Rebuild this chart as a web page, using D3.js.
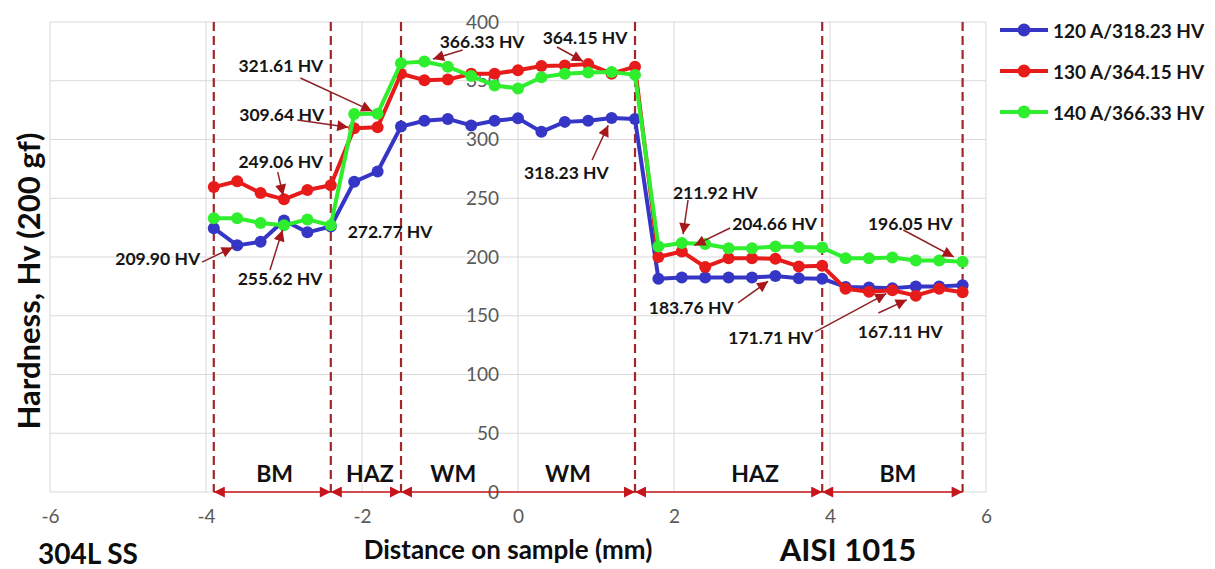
<!DOCTYPE html>
<html>
<head>
<meta charset="utf-8">
<script src="https://cdn.jsdelivr.net/npm/d3@7"></script>
<style>
  body { margin: 0; background: #fff; }
  svg text { font-family: Lato, "Open Sans", sans-serif; }
</style>
</head>
<body>
<div id="chart"></div>
<script>
// Data
const distances = [-3.9, -3.6, -3.3, -3.0, -2.7, -2.4, -2.1, -1.8, -1.5, -1.2, -0.9,
  -0.6, -0.3, 0, 0.3, 0.6, 0.9, 1.2, 1.5, 1.8, 2.1, 2.4, 2.7, 3.0, 3.3, 3.6, 3.9,
  4.2, 4.5, 4.8, 5.1, 5.4, 5.7];

const hardness120 = [224.5, 209.90, 213, 231, 221, 226,
  264, 272.77,
  311, 316, 317.5, 312, 316, 318, 306.5, 315, 316, 318.23, 317.5,
  181.5, 182.5, 182.5, 182.5, 182.5, 183.76, 182, 181.5,
  174.5, 174, 173.5, 175, 175, 176];

const hardness130 = [259.5, 264.5, 254.5, 249.06, 257, 261,
  309.64, 310.5,
  356, 350.5, 351, 356, 356, 359, 362.5, 363, 364.15, 356, 362,
  200, 204.66, 191.5, 199, 199, 198.5, 192, 192.5,
  173, 170.5, 171.71, 167.11, 173, 170];

const hardness140 = [233, 233, 229, 227, 232, 227,
  321.61, 322,
  365, 366.33, 362, 354, 346, 343.5, 353, 356, 357, 357.5, 355,
  209, 211.92, 211, 207.5, 207.5, 209, 208.5, 208,
  199, 199, 199.5, 197, 197, 196.05];

const seriesNames = ["120 A/318.23 HV", "130 A/364.15 HV", "140 A/366.33 HV"];
const xTicks = [-6, -4, -2, 0, 2, 4, 6];
const yTicks = [0, 50, 100, 150, 200, 250, 300, 350, 400];

// Zone boundaries (mm) and zone names
const zoneBounds = [-3.9, -2.4, -1.5, 1.5, 3.9, 5.7];
const zoneNames = ["BM", "HAZ", "WM", "WM", "HAZ", "BM"];
const zoneLabelX = [-3.12, -1.9, -0.83, 0.64, 3.04, 4.87];

// Callouts: label text
const calloutLabels = ["321.61 HV", "309.64 HV", "249.06 HV", "209.90 HV", "255.62 HV",
  "272.77 HV", "366.33 HV", "364.15 HV", "318.23 HV", "211.92 HV", "204.66 HV",
  "196.05 HV", "183.76 HV", "171.71 HV", "167.11 HV"];

// Layout of callouts (text centre and arrow start in data units, target series/point)
const calloutLayout = [
  {tx: -3.04, ty: 362.6, sx: -2.79, sy: 352.3, s: 2, i: 7, gap: 6},
  {tx: -3.03, ty: 321.7, sx: -2.83, sy: 316.6, s: 1, i: 6, gap: 6},
  {tx: -3.04, ty: 280.9, sx: -3.08, sy: 272.3, s: 1, i: 3, gap: 4},
  {tx: -4.62, ty: 198.3, sx: -4.05, sy: 195.7, s: 0, i: 1, gap: 5},
  {tx: -3.05, ty: 182.1, sx: -3.18, sy: 189.0, s: 2, i: 3, gap: 5},
  {tx: -1.64, ty: 222.1},
  {tx: -0.46, ty: 383.8, sx: -0.71, sy: 376.2, s: 2, i: 9, gap: 9},
  {tx: 0.86, ty: 387.2, sx: 0.50, sy: 378.7, s: 1, i: 16, gap: 6},
  {tx: 0.62, ty: 272.3, sx: 0.95, sy: 282.6, s: 0, i: 17, gap: 8},
  {tx: 2.53, ty: 255.3, sx: 2.18, sy: 248.5, s: 2, i: 20, gap: 9},
  {tx: 3.29, ty: 228.9, sx: 2.72, sy: 224.7, s: 1, i: 20, gap: 14},
  {tx: 5.03, ty: 228.9, sx: 4.94, sy: 223.0, s: 2, i: 32, gap: 10},
  {tx: 2.22, ty: 157.4, sx: 2.82, sy: 160.9, s: 0, i: 24, gap: 9},
  {tx: 3.24, ty: 131.1, sx: 3.81, sy: 136.2, s: 1, i: 29, gap: 7},
  {tx: 4.90, ty: 136.2, sx: 4.62, sy: 152.3, s: 1, i: 30, gap: 10}
];

const width = 1215;
const height = 569;
const plot = {left: 50, right: 986, top: 22, bottom: 492};
const colors = ["#3636c6", "#e81b1b", "#2eee2e"];

const allSeries = [hardness120, hardness130, hardness140].map((values, s) => ({
  name: seriesNames[s],
  color: colors[s],
  points: distances.map((x, i) => ({x: x, v: values[i]}))
}));

const svg = d3.select("#chart")
  .append("svg")
    .attr("width", width)
    .attr("height", height);

svg.append("rect")
  .attr("width", width)
  .attr("height", height)
  .attr("fill", "#fff");

// Arrow heads
const defs = svg.append("defs");
defs.append("marker")
    .attr("id", "zone-head")
    .attr("viewBox", "0 0 10 10")
    .attr("refX", 10)
    .attr("refY", 5)
    .attr("markerUnits", "userSpaceOnUse")
    .attr("markerWidth", 12)
    .attr("markerHeight", 11)
    .attr("orient", "auto-start-reverse")
  .append("path")
    .attr("d", "M0,0L10,5L0,10Z")
    .attr("fill", "#c4161c");
defs.append("marker")
    .attr("id", "callout-head")
    .attr("viewBox", "0 0 10 10")
    .attr("refX", 10)
    .attr("refY", 5)
    .attr("markerUnits", "userSpaceOnUse")
    .attr("markerWidth", 13)
    .attr("markerHeight", 11)
    .attr("orient", "auto")
  .append("path")
    .attr("d", "M0,0L10,5L0,10Z")
    .attr("fill", "#a8161a");

// Scales
const xScale = d3.scaleLinear()
  .domain([-6, 6])
  .range([plot.left, plot.right]);

const yScale = d3.scaleLinear()
  .domain([0, 400])
  .range([plot.bottom, plot.top]);

// Gridlines
svg.append("g")
    .attr("class", "grid-y")
  .selectAll("line")
  .data(yTicks)
  .join("line")
    .attr("x1", plot.left)
    .attr("x2", plot.right)
    .attr("y1", d => yScale(d))
    .attr("y2", d => yScale(d))
    .attr("stroke", "#d9d9d9")
    .attr("stroke-width", 1);

svg.append("g")
    .attr("class", "grid-x")
  .selectAll("line")
  .data(xTicks)
  .join("line")
    .attr("x1", d => xScale(d))
    .attr("x2", d => xScale(d))
    .attr("y1", plot.top)
    .attr("y2", plot.bottom)
    .attr("stroke", "#d9d9d9")
    .attr("stroke-width", 1);

// Axes (labels only)
const bottomAxis = d3.axisBottom(xScale)
  .tickValues(xTicks)
  .tickFormat(d => String(d))
  .tickSize(0)
  .tickPadding(18);
svg.append("g")
    .attr("class", "axis-x")
    .attr("transform", `translate(0, ${plot.bottom})`)
    .call(bottomAxis)
    .call(g => g.select(".domain").remove());

const leftAxis = d3.axisLeft(yScale)
  .tickValues(yTicks)
  .tickFormat(d => String(d))
  .tickSize(0)
  .tickPadding(19);
svg.append("g")
    .attr("class", "axis-y")
    .attr("transform", `translate(${xScale(0)}, 0)`)
    .call(leftAxis)
    .call(g => g.select(".domain").remove());

svg.selectAll(".axis-x text, .axis-y text")
  .attr("font-family", "Lato, sans-serif")
  .attr("font-size", 19)
  .attr("fill", "#595959");

// Zone boundaries
svg.append("g")
    .attr("class", "zone-lines")
  .selectAll("line")
  .data(zoneBounds)
  .join("line")
    .attr("x1", d => xScale(d))
    .attr("x2", d => xScale(d))
    .attr("y1", plot.top)
    .attr("y2", plot.bottom)
    .attr("stroke", "#a3262b")
    .attr("stroke-width", 2.2)
    .attr("stroke-dasharray", "9,5");

// Series
const lineGenerator = d3.line()
  .x(d => xScale(d.x))
  .y(d => yScale(d.v));

const seriesGroups = svg.append("g")
    .attr("class", "series")
  .selectAll("g")
  .data(allSeries)
  .join("g");
seriesGroups
  .append("path")
    .attr("d", d => lineGenerator(d.points))
    .attr("fill", "none")
    .attr("stroke", d => d.color)
    .attr("stroke-width", 4)
    .attr("stroke-linejoin", "round");
seriesGroups
  .selectAll("circle")
  .data(d => d.points.map(p => ({...p, color: d.color})))
  .join("circle")
    .attr("cx", d => xScale(d.x))
    .attr("cy", d => yScale(d.v))
    .attr("r", 6)
    .attr("fill", d => d.color);

// Zone arrows along the bottom
svg.append("g")
    .attr("class", "zone-arrows")
  .selectAll("line")
  .data(d3.pairs(zoneBounds))
  .join("line")
    .attr("x1", d => xScale(d[0]))
    .attr("x2", d => xScale(d[1]))
    .attr("y1", plot.bottom)
    .attr("y2", plot.bottom)
    .attr("stroke", "#c4161c")
    .attr("stroke-width", 1.6)
    .attr("marker-start", "url(#zone-head)")
    .attr("marker-end", "url(#zone-head)");

svg.append("g")
    .attr("class", "zone-labels")
  .selectAll("text")
  .data(zoneNames)
  .join("text")
    .attr("x", (d, i) => xScale(zoneLabelX[i]))
    .attr("y", yScale(16))
    .attr("text-anchor", "middle")
    .attr("dominant-baseline", "central")
    .attr("font-size", 23)
    .attr("font-weight", "bold")
    .attr("fill", "#111")
    .text(d => d);

// Callouts
const callouts = svg.append("g").attr("class", "callouts");
calloutLayout.forEach((c, k) => {
  callouts.append("text")
      .attr("x", xScale(c.tx))
      .attr("y", yScale(c.ty))
      .attr("text-anchor", "middle")
      .attr("dominant-baseline", "central")
      .attr("font-size", 17.5)
      .attr("font-weight", "bold")
      .attr("fill", "#151515")
      .text(calloutLabels[k]);
  if (c.s === undefined) return;
  const target = allSeries[c.s].points[c.i];
  const x1 = xScale(c.sx), y1 = yScale(c.sy);
  const x2 = xScale(target.x), y2 = yScale(target.v);
  const len = Math.hypot(x2 - x1, y2 - y1);
  const t = (len - c.gap) / len;
  callouts.append("line")
      .attr("x1", x1)
      .attr("y1", y1)
      .attr("x2", x1 + (x2 - x1) * t)
      .attr("y2", y1 + (y2 - y1) * t)
      .attr("stroke", "#8e2226")
      .attr("stroke-width", 1.5)
      .attr("marker-end", "url(#callout-head)");
});

// Legend
const legend = svg.append("g")
    .attr("class", "legend")
  .selectAll("g")
  .data(allSeries)
  .join("g")
    .attr("transform", (d, i) => `translate(1000, ${30 + i * 41})`);
legend
  .append("line")
    .attr("x1", 0)
    .attr("x2", 48)
    .attr("stroke", d => d.color)
    .attr("stroke-width", 4);
legend
  .append("circle")
    .attr("cx", 24)
    .attr("r", 6.5)
    .attr("fill", d => d.color);
legend
  .append("text")
    .attr("x", 53)
    .attr("dominant-baseline", "central")
    .attr("font-size", 19)
    .attr("font-weight", "bold")
    .attr("fill", "#151515")
    .text(d => d.name);

// Titles
svg.append("text")
    .attr("transform", "translate(28, 281) rotate(-90)")
    .attr("text-anchor", "middle")
    .attr("dominant-baseline", "central")
    .attr("font-size", 31)
    .attr("font-weight", "bold")
    .attr("fill", "#0d0d0d")
    .text("Hardness, Hv (200 gf)");

svg.append("text")
    .attr("x", 508)
    .attr("y", 549)
    .attr("text-anchor", "middle")
    .attr("dominant-baseline", "central")
    .attr("font-size", 26)
    .attr("font-weight", "bold")
    .attr("fill", "#0d0d0d")
    .text("Distance on sample (mm)");

svg.append("text")
    .attr("x", 88)
    .attr("y", 553)
    .attr("text-anchor", "middle")
    .attr("dominant-baseline", "central")
    .attr("font-size", 28)
    .attr("font-weight", "bold")
    .attr("fill", "#0d0d0d")
    .text("304L SS");

svg.append("text")
    .attr("x", 848)
    .attr("y", 549)
    .attr("text-anchor", "middle")
    .attr("dominant-baseline", "central")
    .attr("font-size", 31)
    .attr("font-weight", "bold")
    .attr("fill", "#0d0d0d")
    .text("AISI 1015");
</script>
</body>
</html>
